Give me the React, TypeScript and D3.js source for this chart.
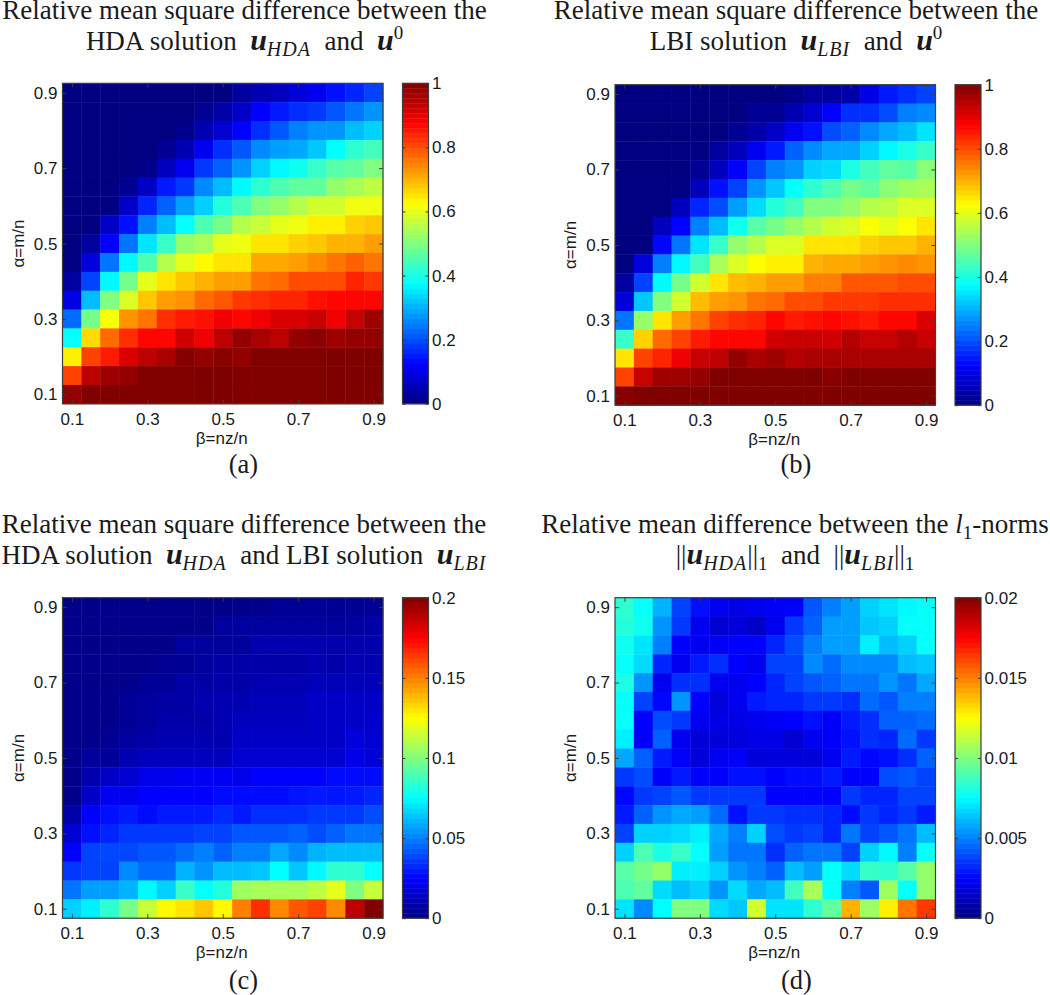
import React, { useRef, useEffect } from 'react';
import * as d3 from 'd3';

// rows run top to bottom (alpha high to low), columns beta 0.1 -> 0.9
const betaValues = d3.range(17).map(i => 0.1 + i * 0.05);
const alphaValues = d3.range(17).map(i => 0.9 - i * 0.05);
const axisTicks = [0.1, 0.3, 0.5, 0.7, 0.9];

const hdaVsTruth = [
  [0,0,0,0,0,0,0,0,0,.03,.05,.06,.09,.11,.14,.16,.19],
  [0,0,0,0,0,0,0,.02,.04,.07,.125,.15,.17,.18,.21,.24,.27],
  [0,0,0,0,0,0,.01,.05,.08,.125,.17,.21,.25,.27,.27,.31,.33],
  [0,0,0,0,0,.02,.05,.11,.17,.21,.26,.28,.29,.32,.375,.42,.44],
  [0,0,0,0,.01,.06,.11,.18,.22,.27,.33,.37,.39,.43,.46,.47,.5],
  [0,0,0,.02,.07,.15,.18,.26,.31,.37,.42,.45,.47,.47,.52,.54,.56],
  [0,0,0,.07,.16,.22,.28,.33,.41,.45,.5,.52,.55,.58,.58,.61,.61],
  [0,0,.07,.14,.25,.31,.38,.45,.49,.55,.57,.6,.61,.64,.64,.67,.68],
  [0,.03,.125,.24,.35,.43,.52,.54,.6,.61,.65,.65,.67,.68,.7,.7,.72],
  [0,.09,.24,.37,.45,.55,.6,.63,.65,.65,.71,.71,.72,.74,.76,.78,.76],
  [.03,.19,.37,.49,.6,.65,.68,.7,.72,.72,.76,.77,.8,.8,.8,.84,.82],
  [.1,.31,.5,.59,.68,.72,.73,.77,.79,.82,.83,.84,.84,.86,.87,.87,.87],
  [.23,.49,.62,.73,.76,.83,.85,.86,.89,.87,.89,.91,.91,.93,.89,.93,.97],
  [.38,.66,.77,.83,.87,.87,.92,.89,.94,.98,.96,.94,.98,.99,.97,.98,.98],
  [.64,.81,.85,.91,.94,.96,.995,.98,.99,.98,1,1,1,1,1,1,1],
  [.81,.94,.97,.98,1,1,1,1,1,1,1,1,1,1,1,1,1],
  [.98,1,1,1,1,1,1,1,1,1,1,1,1,1,1,1,1],
];

const lbiVsTruth = [
  [0,0,0,0,0,0,0,0,0,.01,.03,.03,.04,.1,.15,.17,.19],
  [0,0,0,0,0,0,0,.02,.02,.05,.08,.125,.17,.17,.2,.25,.26],
  [0,0,0,0,0,0,.02,.04,.07,.11,.14,.2,.22,.26,.29,.31,.35],
  [0,0,0,0,0,.03,.06,.11,.15,.22,.26,.29,.29,.33,.37,.4,.43],
  [0,0,0,0,.02,.06,.12,.19,.25,.27,.33,.34,.4,.44,.47,.46,.51],
  [0,0,0,0,.06,.14,.19,.27,.32,.38,.42,.45,.49,.47,.51,.53,.54],
  [0,0,0,.06,.16,.2,.28,.34,.41,.44,.5,.5,.52,.55,.56,.59,.59],
  [0,0,.06,.125,.25,.31,.39,.46,.49,.52,.55,.58,.59,.62,.6,.62,.65],
  [0,0,.13,.24,.35,.43,.52,.55,.59,.59,.65,.65,.65,.67,.68,.68,.7],
  [0,.09,.25,.37,.44,.54,.59,.625,.64,.64,.7,.71,.71,.72,.73,.74,.73],
  [.03,.19,.37,.49,.58,.65,.69,.7,.72,.72,.75,.75,.79,.79,.79,.8,.8],
  [.09,.32,.5,.58,.69,.72,.73,.76,.77,.8,.8,.82,.82,.82,.83,.83,.83],
  [.24,.52,.65,.72,.76,.81,.83,.84,.87,.85,.86,.87,.86,.85,.87,.87,.91],
  [.43,.67,.77,.81,.85,.87,.87,.87,.92,.93,.93,.92,.95,.93,.93,.95,.93],
  [.65,.81,.84,.89,.93,.94,.98,.96,.97,.95,.96,.96,.96,.96,.96,.96,.96],
  [.81,.93,.97,.97,.98,1,1,1,1,1,1,.99,1,1,1,1,1],
  [.99,1,1,1,1,1,1,1,1,1,1,1,1,1,1,1,1],
];

const hdaVsLbi = [
  [.002,.002,.002,.002,.002,.002,.002,.002,.002,.002,.002,.004,.004,.004,.004,.004,.004],
  [.002,.002,.002,.002,.002,.002,.002,.002,.006,.006,.006,.006,.006,.006,.006,.006,.008],
  [.002,.002,.002,.002,.002,.002,.006,.006,.006,.006,.009,.009,.009,.009,.009,.009,.009],
  [.002,.002,.002,.002,.002,.004,.004,.006,.008,.008,.008,.008,.008,.01,.008,.01,.009],
  [.002,.002,.002,.002,.005,.005,.007,.007,.008,.008,.01,.01,.01,.011,.011,.011,.011],
  [.002,.002,.002,.005,.006,.007,.007,.01,.01,.01,.011,.011,.011,.014,.014,.014,.014],
  [.002,.002,.002,.004,.006,.008,.008,.008,.01,.012,.012,.012,.012,.014,.014,.014,.015],
  [.002,.002,.004,.006,.007,.01,.01,.01,.01,.014,.014,.014,.014,.014,.014,.018,.016],
  [.002,.006,.005,.01,.012,.012,.012,.012,.012,.016,.016,.016,.016,.016,.016,.02,.018],
  [.002,.009,.014,.016,.021,.021,.023,.023,.023,.021,.025,.025,.025,.025,.027,.027,.027],
  [.002,.014,.022,.022,.025,.025,.025,.025,.027,.027,.027,.027,.029,.03,.029,.03,.032],
  [.008,.025,.028,.03,.027,.03,.03,.03,.033,.03,.034,.034,.034,.036,.036,.036,.04],
  [.016,.028,.032,.036,.036,.036,.036,.038,.038,.042,.042,.042,.044,.04,.044,.048,.048],
  [.025,.038,.039,.039,.042,.042,.046,.05,.044,.05,.05,.058,.052,.06,.062,.062,.062],
  [.036,.038,.038,.052,.046,.046,.06,.054,.062,.062,.064,.075,.064,.074,.084,.084,.076],
  [.048,.056,.056,.06,.074,.066,.086,.076,.082,.106,.108,.108,.108,.112,.12,.1,.114],
  [.066,.072,.084,.098,.114,.126,.13,.136,.126,.15,.166,.148,.158,.162,.148,.188,.2],
];

const l1NormDiff = [
  [.0084,.0076,.006,.0038,.0028,.0022,.002,.0022,.0024,.0025,.0042,.005,.0056,.0066,.007,.0074,.0076],
  [.0082,.0078,.0054,.0036,.0022,.0016,.0018,.0014,.0022,.0036,.0044,.0056,.0056,.0064,.0066,.0076,.0076],
  [.0078,.007,.005,.0025,.0022,.0024,.0025,.0025,.0032,.004,.005,.0056,.0056,.0072,.0062,.0066,.0076],
  [.0076,.0068,.0032,.0022,.003,.0034,.0025,.0022,.0038,.0038,.0052,.0046,.0052,.0052,.0052,.0062,.0064],
  [.008,.0054,.0022,.0034,.0034,.0022,.0022,.0025,.0032,.0038,.0042,.0044,.0048,.0048,.0054,.0048,.0058],
  [.0076,.0038,.0026,.0054,.0025,.0018,.0022,.003,.0032,.0032,.0036,.0036,.0034,.0046,.0042,.005,.005],
  [.0076,.0025,.004,.0036,.0022,.002,.002,.0022,.0024,.0025,.0028,.0024,.003,.0034,.0044,.0044,.0046],
  [.0072,.0024,.0044,.0022,.0018,.0018,.0018,.002,.002,.0016,.0022,.0024,.0028,.0034,.0032,.0046,.0036],
  [.0058,.0044,.003,.0024,.0018,.0022,.0024,.0018,.0018,.0018,.0018,.0022,.003,.0026,.0028,.0034,.0044],
  [.0036,.004,.0025,.003,.0025,.0025,.0028,.0028,.0025,.0027,.0027,.003,.0025,.0025,.004,.0042,.0038],
  [.0026,.0036,.0038,.0042,.0036,.0036,.0036,.0036,.0025,.0025,.0025,.0025,.0036,.0032,.0032,.0038,.0038],
  [.003,.0044,.0054,.0058,.0056,.0046,.0028,.0036,.0036,.0034,.0034,.0032,.0027,.0036,.0032,.0036,.003],
  [.0038,.0066,.0066,.0068,.0072,.0058,.005,.0066,.004,.0036,.0038,.0032,.0048,.0038,.0042,.0048,.0062],
  [.0066,.009,.008,.0086,.0076,.0056,.0048,.0048,.0034,.0044,.0048,.0048,.0038,.0066,.0074,.005,.0076],
  [.0092,.0098,.0104,.0072,.0072,.0066,.0054,.005,.0044,.0062,.0056,.0076,.0068,.0086,.0084,.0092,.0104],
  [.009,.0094,.0068,.0062,.0066,.0054,.0068,.0058,.0062,.0088,.0108,.0076,.005,.0042,.0106,.0076,.0104],
  [.007,.0052,.0075,.01,.01,.0068,.0064,.0116,.007,.007,.0084,.0094,.014,.0106,.0128,.0152,.0164],
];

const colorbarTicksUnit = [0, 0.2, 0.4, 0.6, 0.8, 1];
const colorbarTicksC = [0, 0.05, 0.1, 0.15, 0.2];
const colorbarTicksD = [0, 0.005, 0.01, 0.015, 0.02];

type Seg = { t: string; kind?: 'u' | 'sub' | 'sup' | 'subn' | 'it' };

const u = (name: string): Seg[] => [{ t: 'u', kind: 'u' }, { t: name, kind: 'sub' }];

const titleA: Seg[][] = [
  [{ t: 'Relative mean square difference between the' }],
  [{ t: 'HDA solution  ' }, ...u('HDA'), { t: '  and  ' }, { t: 'u', kind: 'u' }, { t: '0', kind: 'sup' }],
];
const titleB: Seg[][] = [
  [{ t: 'Relative mean square difference between the' }],
  [{ t: 'LBI solution  ' }, ...u('LBI'), { t: '  and  ' }, { t: 'u', kind: 'u' }, { t: '0', kind: 'sup' }],
];
const titleC: Seg[][] = [
  [{ t: 'Relative mean square difference between the' }],
  [{ t: 'HDA solution  ' }, ...u('HDA'), { t: '  and LBI solution  ' }, ...u('LBI')],
];
const titleD: Seg[][] = [
  [{ t: 'Relative mean difference between the ' }, { t: 'l', kind: 'it' }, { t: '1', kind: 'subn' }, { t: '-norms' }],
  [{ t: '||' }, ...u('HDA'), { t: '||' }, { t: '1', kind: 'subn' }, { t: '  and  ' }, { t: '||' }, ...u('LBI'), { t: '||' }, { t: '1', kind: 'subn' }],
];

const panels = [
  { data: hdaVsTruth, max: 1, ticks: colorbarTicksUnit, title: titleA, tag: '(a)', left: 62.5, top: 83.3, titleX: 244.5, titleY: 18.5, tagX: 243.5, tagY: 473 },
  { data: lbiVsTruth, max: 1, ticks: colorbarTicksUnit, title: titleB, tag: '(b)', left: 615, top: 84.7, titleX: 796, titleY: 18.5, tagX: 796, tagY: 473 },
  { data: hdaVsLbi, max: 0.2, ticks: colorbarTicksC, title: titleC, tag: '(c)', left: 62.5, top: 597.7, titleX: 244, titleY: 533, tagX: 243.5, tagY: 989 },
  { data: l1NormDiff, max: 0.02, ticks: colorbarTicksD, title: titleD, tag: '(d)', left: 615, top: 597.7, titleX: 795, titleY: 533, tagX: 796.5, tagY: 989 },
];

const SIZE = 320.5;
const SANS = '"Liberation Sans", Arial, sans-serif';
const SERIF = '"Liberation Serif", "Times New Roman", serif';
const AXIS_COLOR = '#3c3c3c';
const TEXT_COLOR = '#1a1a1a';
const LABEL_SIZE = 17;

const jet = d3.scaleLinear<string>()
  .domain([0, 0.125, 0.375, 0.625, 0.875, 1])
  .range(['#000080', '#0000ff', '#00ffff', '#ffff00', '#ff0000', '#800000'])
  .clamp(true);

function drawTitle(g: any, lines: Seg[][], x: number, y: number) {
  lines.forEach((line, i) => {
    const text = g.append('text')
      .attr('x', x)
      .attr('y', y + i * 31)
      .attr('text-anchor', 'middle')
      .attr('font-family', SERIF)
      .attr('font-size', 27)
      .attr('fill', TEXT_COLOR)
      .style('white-space', 'pre');
    let shift = 0;
    line.forEach(seg => {
      let target = 0;
      if (seg.kind === 'sub' || seg.kind === 'subn') target = 6;
      if (seg.kind === 'sup') target = -11;
      const span = text.append('tspan').attr('dy', target - shift).text(seg.t);
      shift = target;
      if (seg.kind === 'u') span.attr('font-weight', 'bold').attr('font-style', 'italic').attr('font-size', 30);
      if (seg.kind === 'it') span.attr('font-style', 'italic');
      if (seg.kind === 'sub') span.attr('font-style', 'italic').attr('font-size', 20).attr('letter-spacing', 1);
      if (seg.kind === 'subn' || seg.kind === 'sup') span.attr('font-size', 19);
    });
  });
}

function styleAxis(sel: any, showLabels: boolean) {
  sel.select('.domain').remove();
  sel.selectAll('line').attr('stroke', AXIS_COLOR).attr('stroke-width', 1);
  sel.selectAll('text')
    .attr('font-family', SANS)
    .attr('font-size', LABEL_SIZE)
    .attr('fill', TEXT_COLOR)
    .style('display', showLabels ? null : 'none');
}

function drawPanel(svg: any, p: (typeof panels)[number]) {
  const g = svg.append('g').attr('transform', `translate(${p.left},${p.top})`);

  const x = d3.scaleLinear().domain([0.075, 0.925]).range([0, SIZE]);
  const y = d3.scaleLinear().domain([0.075, 0.925]).range([SIZE, 0]);
  const color = (v: number) => jet(v / p.max);

  // heat map cells
  p.data.forEach((row, r) => {
    row.forEach((v, c) => {
      g.append('rect')
        .attr('x', x(betaValues[c] - 0.025))
        .attr('y', y(alphaValues[r] + 0.025))
        .attr('width', x(0.125) - x(0.075) + 0.4)
        .attr('height', y(0.075) - y(0.125) + 0.4)
        .attr('fill', color(v));
    });
  });

  const axes: [any, string, boolean][] = [
    [d3.axisBottom(x).tickValues(axisTicks).tickFormat(d3.format('.1f') as any).tickSizeInner(-4).tickPadding(9), `translate(0,${SIZE})`, true],
    [d3.axisTop(x).tickValues(axisTicks).tickSizeInner(-4), 'translate(0,0)', false],
    [d3.axisLeft(y).tickValues(axisTicks).tickFormat(d3.format('.1f') as any).tickSizeInner(-4).tickPadding(5), 'translate(0,0)', true],
    [d3.axisRight(y).tickValues(axisTicks).tickSizeInner(-4), `translate(${SIZE},0)`, false],
  ];
  axes.forEach(([axis, tr, labels]) => {
    const a = g.append('g').attr('transform', tr).call(axis.tickSizeOuter(0));
    styleAxis(a, labels);
  });
  g.append('rect').attr('width', SIZE).attr('height', SIZE)
    .attr('fill', 'none').attr('stroke', AXIS_COLOR).attr('stroke-width', 1.2);

  g.append('text')
    .attr('x', SIZE / 2 - 1)
    .attr('y', SIZE + 40)
    .attr('text-anchor', 'middle')
    .attr('font-family', SANS).attr('font-size', LABEL_SIZE).attr('fill', TEXT_COLOR)
    .text('β=nz/n');
  g.append('text')
    .attr('transform', `translate(${-39},${SIZE / 2}) rotate(-90)`)
    .attr('text-anchor', 'middle')
    .attr('font-family', SANS).attr('font-size', LABEL_SIZE).attr('fill', TEXT_COLOR)
    .text('α=m/n');

  // colour bar, 64 levels like the jet map
  const barX = SIZE + 19.5;
  const barW = 26;
  const cb = d3.scaleLinear().domain([0, p.max]).range([SIZE, 0]);
  const bar = g.append('g').attr('transform', `translate(${barX},0)`);
  d3.range(64).forEach(i => {
    const lo = (i / 64) * p.max;
    const hi = ((i + 1) / 64) * p.max;
    bar.append('rect')
      .attr('y', cb(hi))
      .attr('width', barW)
      .attr('height', cb(lo) - cb(hi) + 0.4)
      .attr('fill', color((lo + hi) / 2));
  });
  const inner = d3.axisRight(cb).tickValues(p.ticks).tickFormat(d3.format('~g') as any).tickSize(-3).tickSizeOuter(0).tickPadding(3.5);
  const a1 = bar.append('g').attr('transform', `translate(${barW},0)`).call(inner);
  styleAxis(a1, true);
  const a2 = bar.append('g').call(d3.axisRight(cb).tickValues(p.ticks).tickSize(3).tickSizeOuter(0));
  styleAxis(a2, false);
  bar.append('rect').attr('width', barW).attr('height', SIZE)
    .attr('fill', 'none').attr('stroke', AXIS_COLOR).attr('stroke-width', 1.2);

  drawTitle(svg, p.title, p.titleX, p.titleY);
  svg.append('text')
    .attr('x', p.tagX)
    .attr('y', p.tagY)
    .attr('text-anchor', 'middle')
    .attr('font-family', SERIF).attr('font-size', 26.5).attr('fill', TEXT_COLOR)
    .text(p.tag);
}

export default function App() {
  const ref = useRef<SVGSVGElement | null>(null);

  useEffect(() => {
    if (!ref.current) return;
    const svg = d3.select(ref.current);
    svg.selectAll('*').remove();
    panels.forEach(p => drawPanel(svg, p));
  }, []);

  return (
    <svg
      ref={ref}
      width={1050}
      height={995}
      style={{ position: 'absolute', left: 0, top: 0, background: '#fff' }}
    />
  );
}
